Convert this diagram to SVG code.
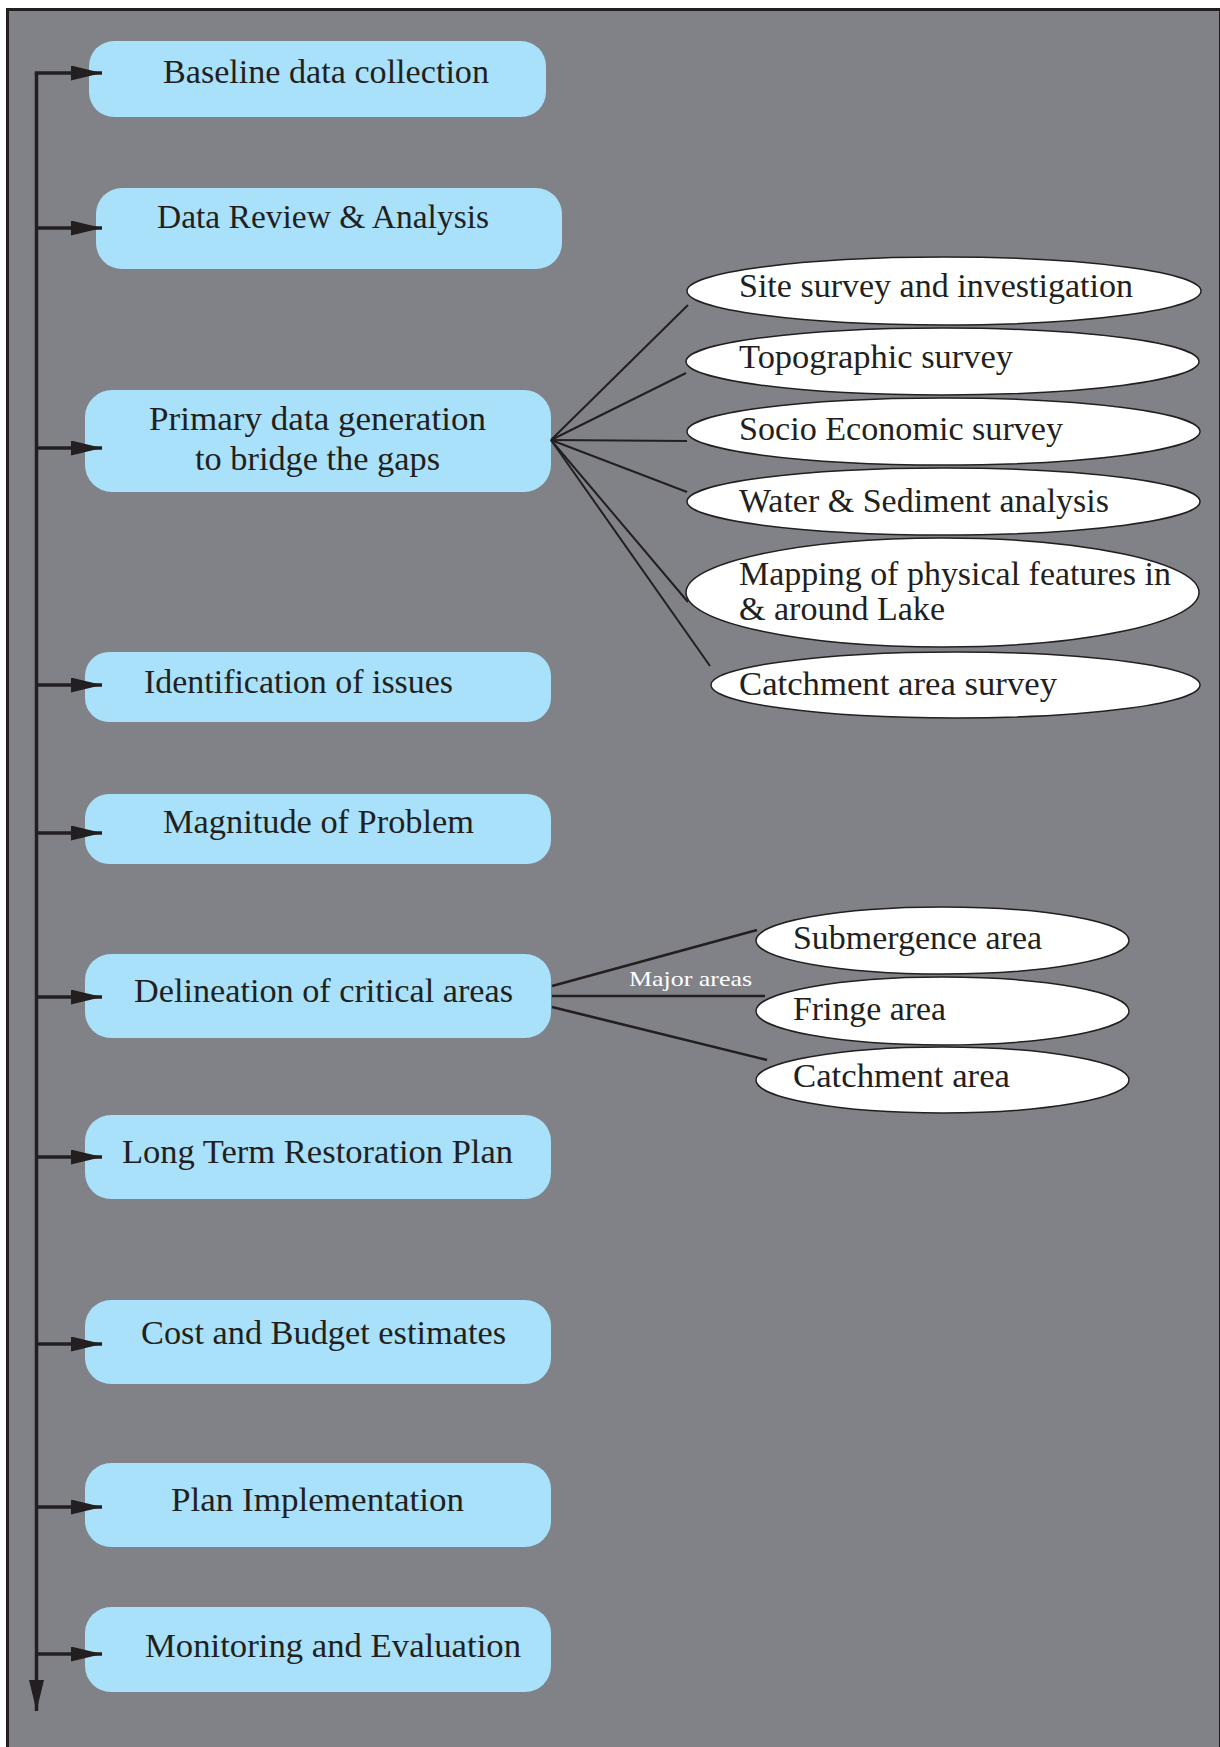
<svg xmlns="http://www.w3.org/2000/svg" width="1220" height="1747" viewBox="0 0 1220 1747">
  <defs>
    <style>
      .frame { fill: #818287; stroke: #231f20; stroke-width: 3; }
      .step { fill: #a8e1f9; }
      .step-label { font-family: "Liberation Serif", "Times New Roman", serif; font-size: 33px; fill: #231f20; text-anchor: middle; }
      .task { fill: #ffffff; stroke: #231f20; stroke-width: 1.5; }
      .task-label { font-family: "Liberation Serif", "Times New Roman", serif; font-size: 33px; fill: #231f20; }
      .spine { fill: none; stroke: #231f20; stroke-width: 3.5; }
      .branch { fill: none; stroke: #231f20; stroke-width: 2; }
      .branch-heavy { fill: none; stroke: #231f20; stroke-width: 2.6; }
      .edge-label { font-family: "Liberation Serif", "Times New Roman", serif; font-size: 22px; fill: #ffffff; }
    </style>
    <marker id="arrow" markerUnits="userSpaceOnUse" markerWidth="32" markerHeight="16" refX="31" refY="7.5" orient="auto">
      <path d="M0,0 L31,7.5 L0,15 z" fill="#231f20"/>
    </marker>
  </defs>

  <!-- background panel -->
  <rect class="frame" x="7.5" y="9.5" width="1213" height="1745"/>

  <!-- main steps -->
  <g id="step-baseline">
    <rect class="step" x="89" y="41" width="457" height="76" rx="25"/>
    <text class="step-label" x="326" y="83" textLength="326" lengthAdjust="spacingAndGlyphs">Baseline data collection</text>
  </g>
  <g id="step-review">
    <rect class="step" x="96" y="188" width="466" height="81" rx="26"/>
    <text class="step-label" x="323" y="228" textLength="332" lengthAdjust="spacingAndGlyphs">Data Review &amp; Analysis</text>
  </g>
  <g id="step-primary">
    <rect class="step" x="85" y="390" width="466" height="102" rx="27"/>
    <text class="step-label" x="317.5" y="430" textLength="337" lengthAdjust="spacingAndGlyphs">Primary data generation</text>
    <text class="step-label" x="317.5" y="470" textLength="245" lengthAdjust="spacingAndGlyphs">to bridge the gaps</text>
  </g>
  <g id="step-issues">
    <rect class="step" x="85" y="652" width="466" height="70" rx="24"/>
    <text class="step-label" x="298.5" y="693" textLength="309" lengthAdjust="spacingAndGlyphs">Identification of issues</text>
  </g>
  <g id="step-magnitude">
    <rect class="step" x="85" y="794" width="466" height="70" rx="24"/>
    <text class="step-label" x="318.5" y="833" textLength="311" lengthAdjust="spacingAndGlyphs">Magnitude of Problem</text>
  </g>
  <g id="step-delineation">
    <rect class="step" x="85" y="954" width="466" height="84" rx="26"/>
    <text class="step-label" x="323.5" y="1002" textLength="379" lengthAdjust="spacingAndGlyphs">Delineation of critical areas</text>
  </g>
  <g id="step-restoration">
    <rect class="step" x="85" y="1115" width="466" height="84" rx="26"/>
    <text class="step-label" x="317.5" y="1163" textLength="391" lengthAdjust="spacingAndGlyphs">Long Term Restoration Plan</text>
  </g>
  <g id="step-cost">
    <rect class="step" x="85" y="1300" width="466" height="84" rx="26"/>
    <text class="step-label" x="323.5" y="1344" textLength="365" lengthAdjust="spacingAndGlyphs">Cost and Budget estimates</text>
  </g>
  <g id="step-implementation">
    <rect class="step" x="85" y="1463" width="466" height="84" rx="26"/>
    <text class="step-label" x="317.5" y="1511" textLength="293" lengthAdjust="spacingAndGlyphs">Plan Implementation</text>
  </g>
  <g id="step-monitoring">
    <rect class="step" x="85" y="1607" width="466" height="85" rx="26"/>
    <text class="step-label" x="333" y="1657" textLength="376" lengthAdjust="spacingAndGlyphs">Monitoring and Evaluation</text>
  </g>

  <!-- primary data activities -->
  <g id="task-site">
    <ellipse class="task" cx="944" cy="291" rx="257" ry="34"/>
    <text class="task-label" x="739" y="297" textLength="394" lengthAdjust="spacingAndGlyphs">Site survey and investigation</text>
  </g>
  <g id="task-topographic">
    <ellipse class="task" cx="942.5" cy="361.5" rx="256.5" ry="33.5"/>
    <text class="task-label" x="739" y="368" textLength="274" lengthAdjust="spacingAndGlyphs">Topographic survey</text>
  </g>
  <g id="task-socio">
    <ellipse class="task" cx="943.5" cy="431.5" rx="256.5" ry="33.5"/>
    <text class="task-label" x="739" y="440" textLength="324" lengthAdjust="spacingAndGlyphs">Socio Economic survey</text>
  </g>
  <g id="task-water">
    <ellipse class="task" cx="943.5" cy="501.5" rx="256.5" ry="33.5"/>
    <text class="task-label" x="739" y="512" textLength="370" lengthAdjust="spacingAndGlyphs">Water &amp; Sediment analysis</text>
  </g>
  <g id="task-mapping">
    <ellipse class="task" cx="942.5" cy="592.5" rx="256.5" ry="54.5"/>
    <text class="task-label" x="739" y="585" textLength="432" lengthAdjust="spacingAndGlyphs">Mapping of physical features in</text>
    <text class="task-label" x="739" y="620" textLength="206" lengthAdjust="spacingAndGlyphs">&amp; around Lake</text>
  </g>
  <g id="task-catchment-survey">
    <ellipse class="task" cx="955.5" cy="685" rx="244.5" ry="33"/>
    <text class="task-label" x="739" y="695" textLength="318" lengthAdjust="spacingAndGlyphs">Catchment area survey</text>
  </g>

  <!-- critical areas -->
  <g id="area-submergence">
    <ellipse class="task" cx="942.5" cy="940.5" rx="186.5" ry="33.5"/>
    <text class="task-label" x="793" y="949" textLength="249" lengthAdjust="spacingAndGlyphs">Submergence area</text>
  </g>
  <g id="area-fringe">
    <ellipse class="task" cx="942.5" cy="1011" rx="186.5" ry="34"/>
    <text class="task-label" x="793" y="1020" textLength="153" lengthAdjust="spacingAndGlyphs">Fringe area</text>
  </g>
  <g id="area-catchment">
    <ellipse class="task" cx="942.5" cy="1080" rx="186.5" ry="33"/>
    <text class="task-label" x="793" y="1087" textLength="217" lengthAdjust="spacingAndGlyphs">Catchment area</text>
  </g>

  <!-- connectors, drawn last so the arrowheads sit on top of the step boxes -->
  <g id="connectors">
    <!-- main vertical flow line -->
    <path class="spine" d="M36.5,73 L36.5,1711" marker-end="url(#arrow)"/>
    <path class="spine" d="M34.75,73 L102,73" marker-end="url(#arrow)"/>
    <path class="spine" d="M36.5,228 L102,228" marker-end="url(#arrow)"/>
    <path class="spine" d="M36.5,448 L102,448" marker-end="url(#arrow)"/>
    <path class="spine" d="M36.5,685 L102,685" marker-end="url(#arrow)"/>
    <path class="spine" d="M36.5,833 L102,833" marker-end="url(#arrow)"/>
    <path class="spine" d="M36.5,997 L102,997" marker-end="url(#arrow)"/>
    <path class="spine" d="M36.5,1157 L102,1157" marker-end="url(#arrow)"/>
    <path class="spine" d="M36.5,1344 L102,1344" marker-end="url(#arrow)"/>
    <path class="spine" d="M36.5,1507 L102,1507" marker-end="url(#arrow)"/>
    <path class="spine" d="M36.5,1654 L102,1654" marker-end="url(#arrow)"/>

    <!-- primary data branches -->
    <line class="branch" x1="551" y1="440" x2="688" y2="305"/>
    <line class="branch" x1="551" y1="440" x2="686" y2="373"/>
    <line class="branch" x1="551" y1="440" x2="687" y2="441"/>
    <line class="branch" x1="551" y1="440" x2="687" y2="492"/>
    <line class="branch" x1="551" y1="440" x2="688" y2="602"/>
    <line class="branch" x1="551" y1="440" x2="710" y2="666"/>

    <!-- critical area branches -->
    <line class="branch-heavy" x1="552" y1="986" x2="757" y2="930"/>
    <line class="branch-heavy" x1="552" y1="996" x2="765" y2="996"/>
    <line class="branch-heavy" x1="552" y1="1007" x2="767" y2="1060"/>
    <text class="edge-label" x="629" y="986" textLength="123" lengthAdjust="spacingAndGlyphs">Major areas</text>
  </g>
</svg>
